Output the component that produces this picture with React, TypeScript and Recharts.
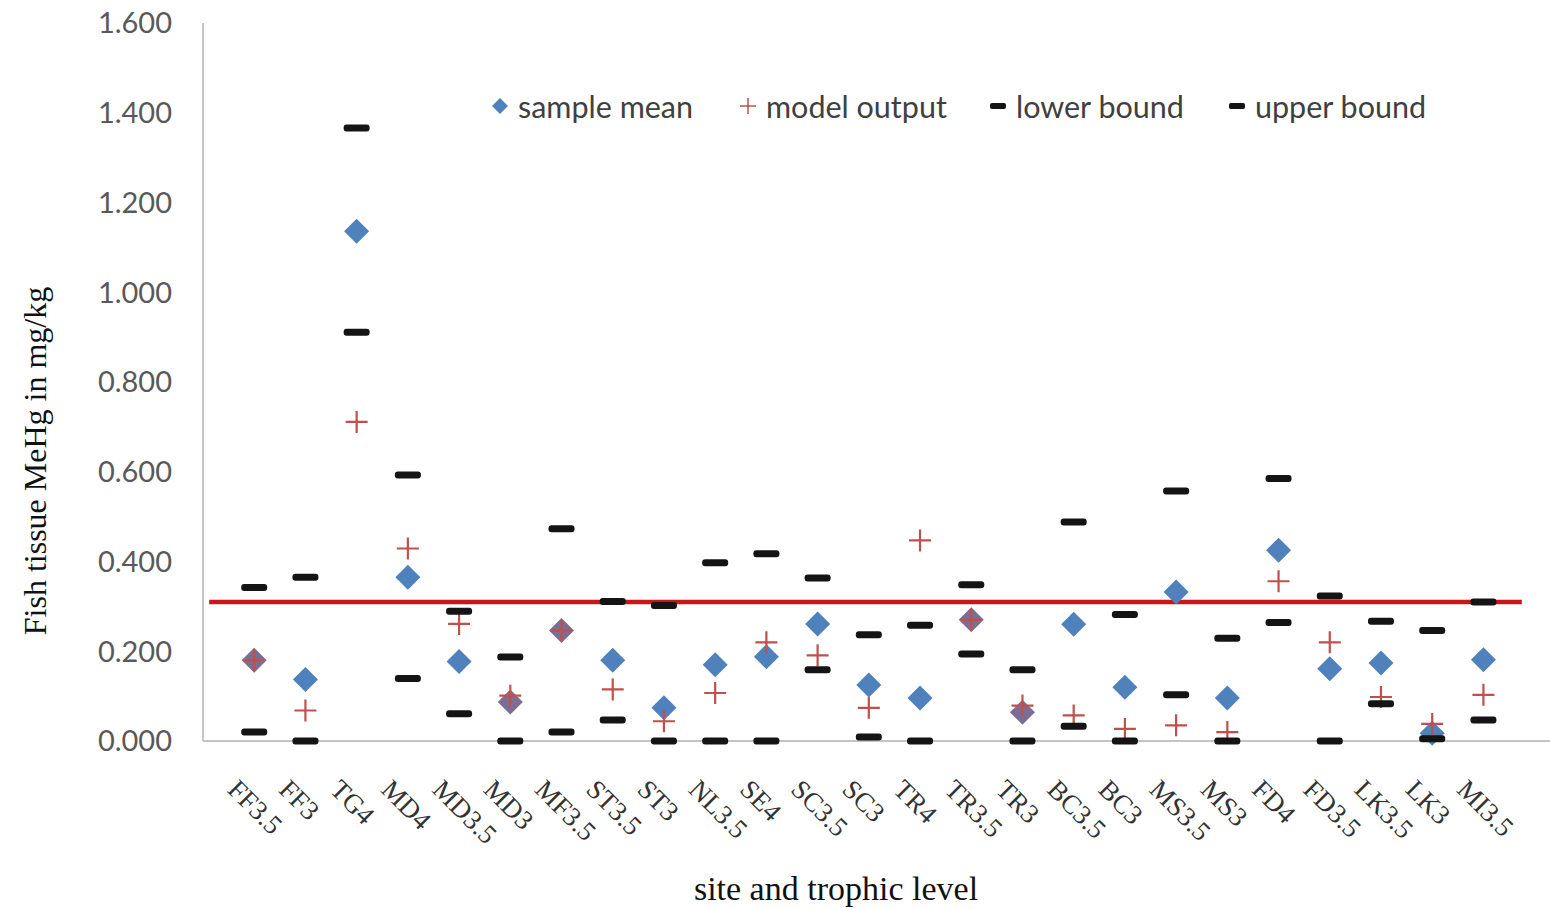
import React from 'react';
import { ComposedChart, Scatter, XAxis, YAxis, ReferenceLine, Label } from 'recharts';

const sites = [
  'FF3.5', 'FF3', 'TG4', 'MD4', 'MD3.5', 'MD3', 'MF3.5', 'ST3.5', 'ST3', 'NL3.5', 'SE4', 'SC3.5', 'SC3',
  'TR4', 'TR3.5', 'TR3', 'BC3.5', 'BC3', 'MS3.5', 'MS3', 'FD4', 'FD3.5', 'LK3.5', 'LK3', 'MI3.5',
];
const sampleMean = [
  0.18, 0.137, 1.136, 0.365, 0.177, 0.087, 0.246, 0.18, 0.074, 0.17, 0.188, 0.261, 0.125,
  0.096, 0.27, 0.064, 0.26, 0.12, 0.332, 0.096, 0.425, 0.161, 0.174, 0.017, 0.181,
];
const modelOutput = [
  0.18, 0.068, 0.711, 0.429, 0.261, 0.101, 0.246, 0.115, 0.044, 0.107, 0.22, 0.191, 0.074,
  0.447, 0.27, 0.079, 0.057, 0.027, 0.035, 0.02, 0.356, 0.22, 0.098, 0.038, 0.103,
];
const lowerBound = [
  0.02, 0.0, 0.911, 0.139, 0.061, 0.0, 0.02, 0.047, 0.0, 0.0, 0.0, 0.159, 0.009,
  0.0, 0.194, 0.0, 0.033, 0.0, 0.103, 0.0, 0.264, 0.0, 0.083, 0.005, 0.047,
];
const upperBound = [
  0.342, 0.365, 1.366, 0.593, 0.289, 0.187, 0.473, 0.311, 0.302, 0.397, 0.417, 0.363, 0.237,
  0.258, 0.348, 0.159, 0.488, 0.282, 0.557, 0.229, 0.585, 0.323, 0.267, 0.246, 0.31,
];
const yTicks = [0, 0.2, 0.4, 0.6, 0.8, 1.0, 1.2, 1.4, 1.6];
// criterion line
const threshold = 0.31;
const thresholdFrom = 0.12;
const thresholdTo = 25.75;

const rows = sites.map((site, i) => ({
  x: i + 1,
  site,
  mean: sampleMean[i],
  model: modelOutput[i],
  lower: lowerBound[i],
  upper: upperBound[i],
}));

const BLUE = '#4f81bd';
const PURPLE = '#7d6d93';
const PLUS = '#c0504d';
const DASH = '#141414';
const SANS = 'Lato, "Open Sans", sans-serif';
const SERIF = '"Liberation Serif", "DejaVu Serif", serif';

const Diamond = (props: any) => {
  const { cx, cy, payload } = props;
  if (cx == null || cy == null) return null;
  const near = Math.abs(payload.model - payload.mean) < 0.02;
  const r = 12.5;
  return (
    <polygon
      points={`${cx},${cy - r} ${cx + r},${cy} ${cx},${cy + r} ${cx - r},${cy}`}
      fill={near ? PURPLE : BLUE}
    />
  );
};

const Plus = (props: any) => {
  const { cx, cy } = props;
  if (cx == null || cy == null) return null;
  const r = 11;
  return (
    <path d={`M${cx - r},${cy}H${cx + r}M${cx},${cy - r}V${cy + r}`} stroke={PLUS} strokeWidth={2.2} fill="none" />
  );
};

const Dash = (props: any) => {
  const { cx, cy } = props;
  if (cx == null || cy == null) return null;
  return <rect x={cx - 13} y={cy - 3.5} width={26} height={7} rx={3} fill={DASH} />;
};

const SiteTick = (props: any) => {
  const { x, y, payload } = props;
  const name = sites[payload.value - 1] ?? '';
  const tx = x - 28;
  const ty = y + 42;
  return (
    <text
      x={tx}
      y={ty}
      transform={`rotate(45, ${tx}, ${ty})`}
      textAnchor="start"
      fontFamily={SERIF}
      fontSize={27}
      fill="#333"
    >
      {name}
    </text>
  );
};

// legend icon centres
const legendItems = [
  { label: 'sample mean', icon: 'diamond', at: 500 },
  { label: 'model output', icon: 'plus', at: 748 },
  { label: 'lower bound', icon: 'dash', at: 998 },
  { label: 'upper bound', icon: 'dash', at: 1237 },
];

const LegendIcon = ({ kind }: { kind: string }) => (
  <svg width={20} height={20} style={{ marginRight: 8 }}>
    {kind === 'diamond' && <polygon points="10,2 18,10 10,18 2,10" fill={BLUE} />}
    {kind === 'plus' && <path d="M2,10H18M10,2V18" stroke={PLUS} strokeWidth={1.5} />}
    {kind === 'dash' && <rect x={2} y={7} width={16} height={6} rx={2} fill={DASH} />}
  </svg>
);

const ChartLegend = () => (
  <>
    {legendItems.map(item => (
      <div
        key={item.label}
        style={{
          position: 'absolute',
          left: item.at - 10,
          top: 88,
          display: 'flex',
          alignItems: 'center',
          fontFamily: SANS,
          fontSize: 30.5,
          color: '#404040',
          whiteSpace: 'nowrap',
        }}
      >
        <LegendIcon kind={item.icon} />
        <span>{item.label}</span>
      </div>
    ))}
  </>
);

export default function App() {
  return (
    <div style={{ position: 'absolute', left: 0, top: 0, width: 1550, height: 909, background: '#fff' }}>
      <ComposedChart width={1550} height={909} data={rows} margin={{ top: 23, right: 0, bottom: 0, left: 0 }}>
        <XAxis
          type="number"
          dataKey="x"
          domain={[0, 26.3]}
          ticks={rows.map(r => r.x)}
          interval={0}
          height={168}
          tick={<SiteTick />}
          tickLine={false}
          axisLine={{ stroke: '#c4c4c4', strokeWidth: 2 }}
        >
          <Label
            content={() => (
              <text x={836} y={900} textAnchor="middle" fontFamily={SERIF} fontSize={34} fill="#111">
                site and trophic level
              </text>
            )}
          />
        </XAxis>
        <YAxis
          type="number"
          domain={[0, 1.6]}
          ticks={yTicks}
          width={203}
          tickLine={false}
          tickSize={0}
          tickMargin={31}
          tickFormatter={(v: number) => v.toFixed(3)}
          tick={{ fontFamily: SANS, fontSize: 29, fill: '#595959' }}
          axisLine={{ stroke: '#c4c4c4', strokeWidth: 2 }}
        >
          <Label
            content={() => (
              <text
                x={46}
                y={461}
                transform="rotate(-90, 46, 461)"
                textAnchor="middle"
                fontFamily={SERIF}
                fontSize={32}
                fill="#111"
              >
                Fish tissue MeHg in mg/kg
              </text>
            )}
          />
        </YAxis>
        <Scatter name="sample mean" dataKey="mean" shape={<Diamond />} isAnimationActive={false} />
        <Scatter name="model output" dataKey="model" shape={<Plus />} isAnimationActive={false} />
        <Scatter name="lower bound" dataKey="lower" shape={<Dash />} isAnimationActive={false} />
        <Scatter name="upper bound" dataKey="upper" shape={<Dash />} isAnimationActive={false} />
        <ReferenceLine
          segment={[
            { x: thresholdFrom, y: threshold },
            { x: thresholdTo, y: threshold },
          ]}
          stroke="#c8161d"
          strokeWidth={4.5}
        />
      </ComposedChart>
      <ChartLegend />
    </div>
  );
}
